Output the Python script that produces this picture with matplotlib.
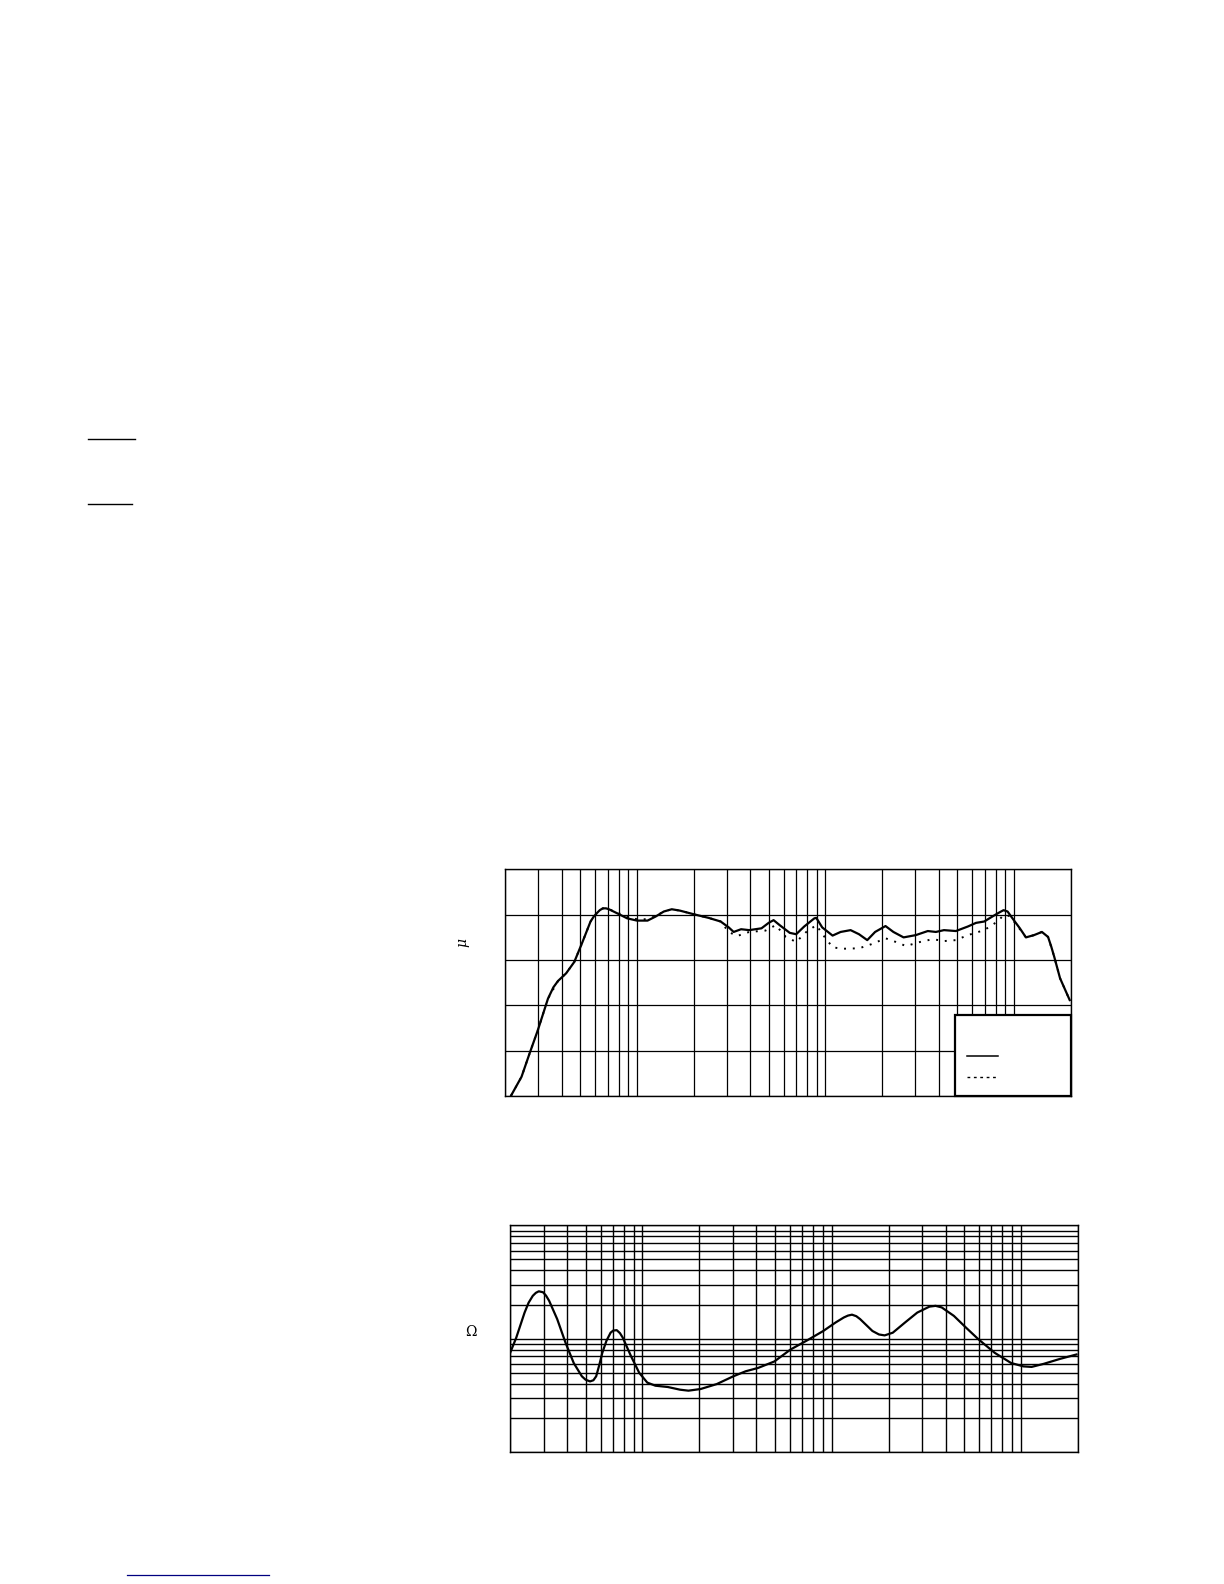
import numpy as np
import matplotlib.pyplot as plt
from matplotlib.ticker import LogLocator, NullFormatter
from matplotlib.patches import Rectangle
from matplotlib.lines import Line2D

# frequency response, solid curve (Hz, dB)
spl_freq = [21.5, 24.4, 26.9, 29.8, 33.7, 36, 38.1, 42.1, 46.5, 51.4, 56.7, 59, 61.1,
            63.5, 65.9, 68.5, 71, 80.4, 88.7, 100, 113.8, 125.7, 138.8, 153, 169, 200,
            240, 278, 307, 326, 357, 394, 458, 500, 531, 572, 647, 700, 772, 874, 895,
            962, 1092, 1205, 1361, 1508, 1668, 1836, 2085, 2296, 2601, 3017, 3496, 3859,
            4260, 4928, 5705, 6303, 6968, 7700, 8300, 8823, 9267, 10000, 10770, 11600,
            12800, 14100, 15200, 15800, 16400, 17600, 19800]
spl_solid = [60.2, 64.3, 69.4, 74.6, 81.5, 84.0, 85.4, 87.1, 89.6, 94.0, 98.5, 99.6, 100.3,
             101.0, 101.4, 101.4, 101.2, 100.1, 99.2, 98.7, 98.7, 99.6, 100.7, 101.2, 100.9, 100.1,
             99.3, 98.5, 97.2, 96.2, 96.8, 96.6, 97.0, 98.2, 98.8, 97.7, 96.0, 95.7, 97.4, 99.2, 99.3,
             97.2, 95.4, 96.2, 96.6, 95.7, 94.4, 96.2, 97.5, 96.2, 95.0, 95.5, 96.4, 96.2,
             96.6, 96.4, 97.4, 98.2, 98.5, 99.6, 100.4, 101.0, 100.7, 98.8, 97.0, 95.0,
             95.5, 96.2, 95.1, 93.0, 90.7, 86.0, 81.2]

# frequency response, dotted curve
dot_freq = [21.5, 24.4, 26.9, 29.8, 33.7, 38.1, 42.1, 46.5, 51.4, 56.7, 61.1, 65.9,
            71, 80.4, 88.7, 100, 113.8, 125.7, 138.8, 153, 169, 200, 240, 278,
            307, 340, 394, 481, 545, 617, 700, 792, 895, 990, 1094, 1238, 1511,
            1754, 2088, 2364, 2677, 3186, 3700, 4295, 4928, 5705, 6968, 8197, 8823,
            9506, 10510, 11600, 12800, 14100, 15200, 16400, 17600, 19800]
spl_dotted = [60.2, 64.3, 69.4, 74.6, 81.5, 85.4, 87.1, 89.6, 94.0, 98.5, 100.3, 101.4,
              101.2, 100.3, 99.5, 99.0, 99.0, 99.7, 100.7, 101.2, 100.9, 100.1, 99.3, 98.5,
              96.2, 95.3, 96.2, 96.5, 97.7, 95.1, 94.0, 96.2, 97.7, 95.1, 92.8, 92.5, 92.6,
              93.5, 94.8, 94.0, 93.1, 94.0, 94.6, 94.2, 94.4, 95.5, 96.6, 98.5, 99.9,
              99.7, 97.4, 95.0, 95.5, 96.2, 95.1, 90.7, 86.0, 81.2]

# impedance curve (Hz, ohm)
imp_freq = [19.7, 21.5, 23.8, 25, 26.3, 27.3, 28.3, 29.8, 30.9, 32.1, 35.4, 39.2, 43.3,
            47.8, 50, 52.8, 55, 56.9, 59, 61.3, 64.5, 67.8, 70, 73.1, 76, 78.7, 87, 96.1,
            106, 117, 136, 158, 175, 203, 247, 302, 351, 408, 498, 607, 741, 903, 1049,
            1160, 1220, 1281, 1350, 1414, 1643, 1780, 1906, 2105, 2443, 2835, 3290, 3545,
            3816, 4429, 5140, 5965, 7285, 8894, 10330, 11410, 13210, 16130, 19700]
imp_ohm = [7.1, 10.2, 17.0, 20.8, 23.9, 25.4, 26.2, 25.7, 24.0, 21.6, 14.9, 9.2, 6.1,
           4.66, 4.35, 4.2, 4.3, 4.66, 5.8, 7.5, 9.6, 11.3, 11.8, 11.9, 11.2, 10.2, 7.0, 5.0,
           4.1, 3.85, 3.75, 3.55, 3.48, 3.6, 3.98, 4.66, 5.16, 5.52, 6.3, 8.04, 9.66, 11.7, 13.9,
           15.4, 16.0, 16.3, 15.8, 14.9, 11.7, 10.9, 10.7, 11.3, 13.9, 17.0, 19.2, 19.5,
           18.9, 15.9, 12.5, 9.9, 7.5, 6.1, 5.7, 5.64, 6.0, 6.64, 7.26]

fig = plt.figure(figsize=(12.24, 15.84), dpi=100)


def setup_axes(ax, grid_lw):
    ax.set_xscale('log')
    ax.set_xlim(20, 20000)
    ax.xaxis.set_major_locator(LogLocator(base=10))
    ax.xaxis.set_minor_locator(LogLocator(base=10, subs=np.arange(2, 10)))
    ax.xaxis.set_minor_formatter(NullFormatter())
    ax.grid(True, which='both', color='black', linewidth=grid_lw)
    ax.tick_params(which='both', length=0, labelbottom=False, labelleft=False)
    for s in ax.spines.values():
        s.set_linewidth(1.0)
        s.set_color('black')


# --- frequency response ---
ax1 = fig.add_axes([0.4128, 0.3079, 0.4618, 0.1433])
setup_axes(ax1, 0.9)
ax1.set_ylim(60, 110)
ax1.set_yticks(np.arange(60, 111, 10))
ax1.plot(spl_freq, spl_solid, color='black', linewidth=1.6, zorder=4,
         solid_joinstyle='round')
ax1.plot(dot_freq, spl_dotted, color='black', linewidth=1.4,
         linestyle=(0, (1, 3.5)), zorder=3)

# legend box (labels are blank in the original)
ax1.add_patch(Rectangle((0.7957, 0.0), 0.2043, 0.3595, transform=ax1.transAxes,
                        facecolor='white', edgecolor='black', linewidth=1.6,
                        zorder=5, clip_on=False))
ax1.add_line(Line2D([0.8163, 0.8712], [0.1762, 0.1762], transform=ax1.transAxes,
                    color='black', linewidth=1.1, zorder=6))
ax1.add_line(Line2D([0.8163, 0.8712], [0.0837, 0.0837], transform=ax1.transAxes,
                    color='black', linewidth=1.0, linestyle=(0, (2, 2.6)), zorder=6))

fig.text(462.3 / 1224, 1 - 942.3 / 1584, 'μ', rotation=90, fontsize=10,
         family='DejaVu Serif', style='italic', ha='center', va='center')

# --- impedance ---
ax2 = fig.add_axes([0.4169, 0.0833, 0.4636, 0.1431])
setup_axes(ax2, 1.0)
ax2.set_yscale('log')
ax2.set_ylim(1, 100)
ax2.yaxis.set_major_locator(LogLocator(base=10))
ax2.yaxis.set_minor_locator(LogLocator(base=10, subs=np.arange(2, 10)))
ax2.yaxis.set_minor_formatter(NullFormatter())
ax2.tick_params(which='both', length=0, labelbottom=False, labelleft=False)
ax2.plot(imp_freq, imp_ohm, color='black', linewidth=1.6, zorder=4,
         solid_joinstyle='round')

fig.text(470.7 / 1224, 1 - 1332.3 / 1584, 'Ω', fontsize=10,
         family='DejaVu Serif', ha='center', va='center')

# stray underlines left over from the page text
fig.add_artist(Line2D([88.3 / 1224, 135 / 1224], [1 - 439.3 / 1584] * 2,
                      color='black', linewidth=1.0))
fig.add_artist(Line2D([88.3 / 1224, 131.7 / 1224], [1 - 504.3 / 1584] * 2,
                      color='black', linewidth=1.0))
fig.add_artist(Line2D([127.3 / 1224, 269 / 1224], [1 - 1575 / 1584] * 2,
                      color='#000080', linewidth=0.9))

fig.savefig('out.png', dpi=100)
